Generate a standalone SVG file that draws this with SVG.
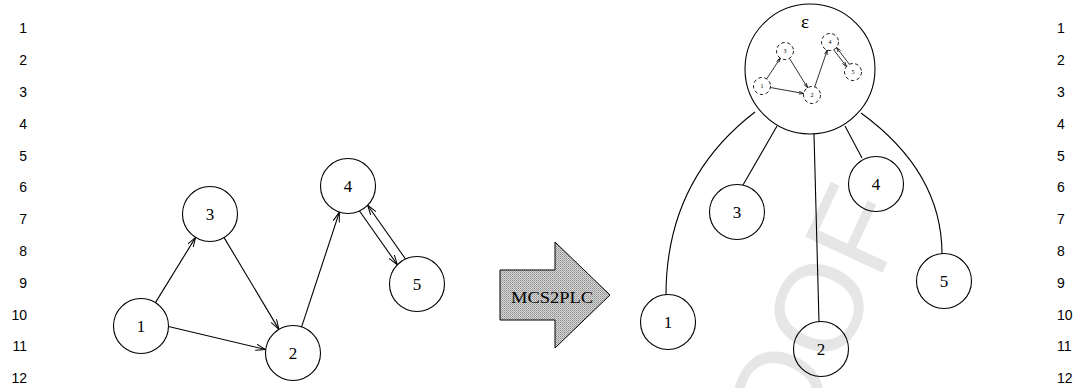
<svg xmlns="http://www.w3.org/2000/svg" width="1073" height="388" viewBox="0 0 1073 388">
  <style>
    .ln { font-family: "Liberation Sans", Arial, sans-serif; font-size: 14px; fill: #000; }
    .node { fill: none; stroke: #000; stroke-width: 1.1; }
    .lbl { font-family: "Liberation Serif", "Times New Roman", serif; font-size: 17px; fill: #000; text-anchor: middle; }
    .edge { fill: none; stroke: #000; stroke-width: 1.1; }
    .arr { marker-end: url(#head); }
    .inode { fill: none; stroke: #000; stroke-width: 0.9; stroke-dasharray: 3.5 2.5; }
    .ilbl { font-family: "Liberation Serif", "Times New Roman", serif; font-size: 6px; fill: #000; text-anchor: middle; }
    .iedge { fill: none; stroke: #000; stroke-width: 0.8; marker-end: url(#ihead); }
    .wm { font-family: "Liberation Sans", Arial, sans-serif; font-size: 124px; fill: #e6e6e6; }
  </style>
  <defs>
    <marker id="head" viewBox="0 0 10 7" refX="10" refY="3.5" markerWidth="10" markerHeight="7" markerUnits="userSpaceOnUse" orient="auto">
      <path d="M0,0.3 L10,3.5 L0,6.7" fill="none" stroke="#000" stroke-width="1"/>
    </marker>
    <marker id="ihead" viewBox="0 0 10 7" refX="10" refY="3.5" markerWidth="5" markerHeight="3.5" markerUnits="userSpaceOnUse" orient="auto">
      <path d="M0,0.3 L10,3.5 L0,6.7" fill="none" stroke="#000" stroke-width="1.4"/>
    </marker>
    <pattern id="dots" width="2" height="2" patternUnits="userSpaceOnUse">
      <rect width="2" height="2" fill="#d8d8d8"/>
      <rect width="1" height="1" fill="#8c8c8c"/>
      <rect x="1" y="1" width="1" height="1" fill="#a8a8a8"/>
    </pattern>
  </defs>

  <!-- watermark -->
  <text class="wm" x="724" y="613" transform="rotate(-65 724 613)">PROOF</text>

  <!-- line numbers -->
  <g id="line-numbers-left" class="ln" text-anchor="end">
    <text x="27" y="33.3">1</text>
    <text x="27" y="65.1">2</text>
    <text x="27" y="96.9">3</text>
    <text x="27" y="128.7">4</text>
    <text x="27" y="160.5">5</text>
    <text x="27" y="192.3">6</text>
    <text x="27" y="224.1">7</text>
    <text x="27" y="255.9">8</text>
    <text x="27" y="287.7">9</text>
    <text x="27" y="319.5">10</text>
    <text x="27" y="351.3">11</text>
    <text x="27" y="383.1">12</text>
  </g>
  <g id="line-numbers-right" class="ln">
    <text x="1057" y="33.3">1</text>
    <text x="1057" y="65.1">2</text>
    <text x="1057" y="96.9">3</text>
    <text x="1057" y="128.7">4</text>
    <text x="1057" y="160.5">5</text>
    <text x="1057" y="192.3">6</text>
    <text x="1057" y="224.1">7</text>
    <text x="1057" y="255.9">8</text>
    <text x="1057" y="287.7">9</text>
    <text x="1057" y="319.5">10</text>
    <text x="1057" y="351.3">11</text>
    <text x="1057" y="383.1">12</text>
  </g>

  <!-- left graph: connectors -->
  <g id="graph-edges">
    <line class="edge arr" x1="155.4" y1="302.6" x2="195.6" y2="237.4"/>
    <line class="edge arr" x1="224.1" y1="237.6" x2="278.9" y2="329.4"/>
    <line class="edge arr" x1="168.5" y1="326.5" x2="265.6" y2="349.5"/>
    <line class="edge arr" x1="301.6" y1="326.9" x2="339.4" y2="212.1"/>
    <line class="edge arr" x1="359.5" y1="211.0" x2="397.4" y2="264.8"/>
    <line class="edge arr" x1="405.5" y1="259.0" x2="367.6" y2="205.2"/>
  </g>

  <!-- left graph: nodes -->
  <g id="g-n1"><circle class="node" cx="141" cy="326" r="27.5"/><text class="lbl" x="141" y="332">1</text></g>
  <g id="g-n3"><circle class="node" cx="210" cy="214" r="27.5"/><text class="lbl" x="210" y="220">3</text></g>
  <g id="g-n2"><circle class="node" cx="293" cy="353" r="27.5"/><text class="lbl" x="293" y="359">2</text></g>
  <g id="g-n4"><circle class="node" cx="348" cy="186" r="27.5"/><text class="lbl" x="348" y="192">4</text></g>
  <g id="g-n5"><circle class="node" cx="417" cy="284" r="27.5"/><text class="lbl" x="417" y="290">5</text></g>

  <!-- transformation arrow -->
  <g id="mcs2plc">
    <polygon points="500,270 555,270 555,242 610,295 555,348 555,320 500,320" fill="url(#dots)" stroke="#000" stroke-width="1"/>
    <text x="552" y="303" font-family="Liberation Serif, Times New Roman, serif" font-size="17" text-anchor="middle" textLength="82" lengthAdjust="spacingAndGlyphs">MCS2PLC</text>
  </g>

  <!-- tree: connectors -->
  <g id="tree-edges">
    <path class="edge" d="M755,112 C712,145 666,200 666,295"/>
    <line class="edge" x1="777" y1="126" x2="743" y2="185"/>
    <line class="edge" x1="814" y1="134" x2="819" y2="322"/>
    <line class="edge" x1="845" y1="126" x2="862" y2="158"/>
    <path class="edge" d="M861,113 C905,145 942,190 942,254"/>
  </g>

  <!-- tree: root holding the whole graph -->
  <g id="t-root">
    <circle class="node" cx="810" cy="69" r="65"/>
    <text x="805" y="28" font-family="Liberation Serif, Times New Roman, serif" font-size="19" text-anchor="middle">ε</text>
    <g id="inner-edges">
      <line class="iedge" x1="766.7" y1="78.9" x2="780.3" y2="58.1"/>
      <line class="iedge" x1="789.4" y1="58.3" x2="807.6" y2="87.7"/>
      <line class="iedge" x1="770.4" y1="87.5" x2="803.6" y2="93.5"/>
      <line class="iedge" x1="814.7" y1="87.0" x2="827.3" y2="50.0"/>
      <line class="iedge" x1="833.6" y1="49.7" x2="846.5" y2="66.5"/>
      <line class="iedge" x1="849.4" y1="64.3" x2="836.5" y2="47.5"/>
    </g>
    <g id="in1"><circle class="inode" cx="762" cy="86" r="8.5"/><text class="ilbl" x="762" y="88">1</text></g>
    <g id="in3"><circle class="inode" cx="785" cy="51" r="8.5"/><text class="ilbl" x="785" y="53">3</text></g>
    <g id="in2"><circle class="inode" cx="812" cy="95" r="8.5"/><text class="ilbl" x="812" y="97">2</text></g>
    <g id="in4"><circle class="inode" cx="830" cy="42" r="8.5"/><text class="ilbl" x="830" y="44">4</text></g>
    <g id="in5"><circle class="inode" cx="853" cy="72" r="8.5"/><text class="ilbl" x="853" y="74">5</text></g>
  </g>

  <!-- tree: leaves -->
  <g id="t-n1"><circle class="node" cx="668" cy="322" r="27.5"/><text class="lbl" x="668" y="328">1</text></g>
  <g id="t-n3"><circle class="node" cx="737" cy="212" r="27.5"/><text class="lbl" x="737" y="218">3</text></g>
  <g id="t-n2"><circle class="node" cx="821" cy="349" r="27.5"/><text class="lbl" x="821" y="355">2</text></g>
  <g id="t-n4"><circle class="node" cx="876" cy="184" r="27.5"/><text class="lbl" x="876" y="190">4</text></g>
  <g id="t-n5"><circle class="node" cx="944" cy="281" r="27.5"/><text class="lbl" x="944" y="287">5</text></g>
</svg>
